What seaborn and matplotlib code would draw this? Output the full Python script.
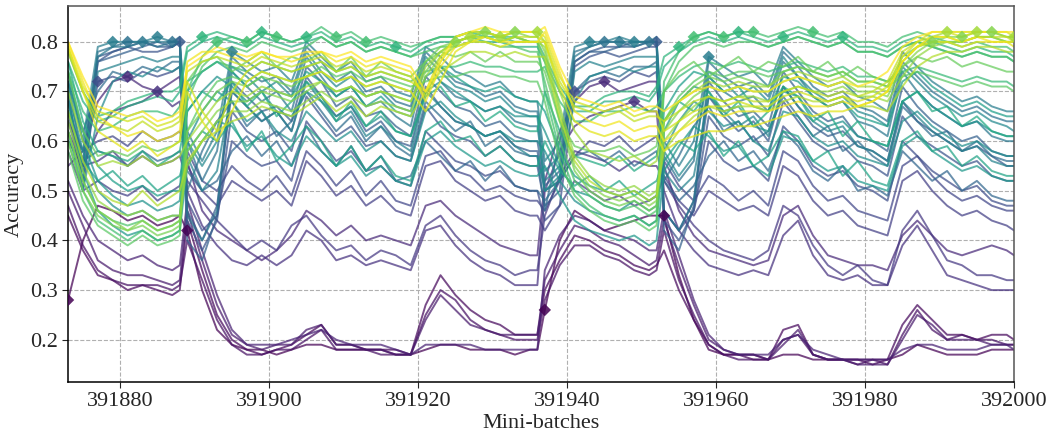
import numpy as np
import pandas as pd
import matplotlib
matplotlib.use('Agg')
import matplotlib.pyplot as plt
import seaborn as sns

# ============================================================================
# data: accuracy (%) of each run, logged every 2nd mini-batch + phase edges
# layout of every run: phase A1 (9) | phase B1 (25) | phase A2 (9) | phase B2 (25)
# ============================================================================

steps = sorted(set(range(391873, 392000, 2)) | {391888, 391936, 391952, 392000})

purple_low = [
    [28, 40, 47, 46, 44, 45, 43, 44, 45,
     42, 30, 22, 19, 18, 18, 17, 18, 19, 19, 18, 18, 18, 18, 17, 17, 18, 19, 19, 18, 18, 18, 17, 18, 18,
     26, 40, 46, 44, 42, 43, 44, 45, 45,
     45, 33, 24, 18, 17, 17, 17, 16, 17, 17, 16, 16, 16, 16, 16, 16, 17, 19, 18, 17, 17, 17, 18, 18, 18],
    [45, 38, 33, 32, 30, 31, 30, 29, 30,
     44, 34, 25, 20, 18, 17, 18, 19, 21, 23, 19, 19, 18, 18, 18, 17, 27, 33, 29, 26, 24, 23, 21, 21, 21,
     30, 36, 41, 40, 38, 37, 35, 34, 35,
     38, 30, 24, 19, 17, 17, 16, 16, 22, 23, 17, 16, 16, 16, 15, 16, 23, 27, 24, 21, 21, 20, 21, 21, 20],
    [47, 39, 34, 32, 31, 31, 31, 30, 31,
     40, 32, 24, 19, 17, 17, 18, 18, 20, 22, 18, 18, 18, 17, 17, 17, 25, 30, 28, 24, 22, 21, 20, 20, 20,
     28, 35, 39, 39, 37, 36, 34, 33, 34,
     42, 32, 25, 19, 17, 16, 16, 16, 20, 21, 17, 16, 16, 15, 16, 15, 21, 26, 22, 20, 21, 20, 20, 19, 19],
    [50, 43, 36, 34, 33, 33, 32, 31, 32,
     46, 36, 27, 21, 19, 18, 19, 19, 22, 23, 19, 19, 18, 18, 17, 17, 24, 29, 26, 23, 22, 21, 21, 21, 21,
     32, 38, 43, 42, 40, 39, 37, 35, 36,
     44, 35, 27, 20, 18, 17, 17, 16, 19, 22, 17, 16, 16, 15, 15, 15, 20, 25, 23, 20, 20, 20, 19, 19, 19],
    [52, 45, 40, 38, 36, 37, 35, 34, 35,
     48, 38, 29, 22, 19, 19, 19, 20, 21, 22, 20, 19, 19, 19, 18, 17, 19, 19, 19, 19, 18, 18, 18, 18, 18,
     34, 41, 45, 44, 42, 41, 40, 38, 38,
     46, 37, 28, 21, 18, 17, 17, 17, 20, 21, 18, 17, 16, 16, 16, 16, 18, 19, 19, 18, 18, 18, 19, 19, 18],
]

purple_mid = [
    [55, 58, 68, 72, 73, 71, 70, 72, 73,
     56, 46, 42, 40, 38, 36, 38, 41, 46, 44, 41, 43, 40, 41, 40, 39, 47, 48, 45, 43, 41, 39, 38, 37, 37,
     52, 62, 68, 71, 72, 70, 71, 72, 72,
     55, 46, 41, 38, 37, 36, 35, 36, 45, 47, 41, 37, 36, 35, 35, 34, 41, 44, 41, 38, 37, 38, 39, 38, 37],
    [60, 55, 62, 66, 67, 68, 70, 67, 68,
     50, 43, 39, 36, 35, 37, 35, 37, 42, 40, 36, 37, 35, 36, 35, 34, 42, 43, 39, 36, 34, 33, 31, 31, 31,
     50, 58, 63, 65, 66, 67, 68, 66, 66,
     50, 42, 38, 35, 34, 33, 34, 33, 41, 44, 37, 33, 32, 33, 31, 31, 39, 43, 38, 33, 32, 31, 30, 30, 30],
    [62, 55, 56, 58, 55, 57, 55, 56, 57,
     52, 48, 44, 41, 38, 40, 38, 43, 45, 41, 38, 39, 36, 38, 37, 35, 43, 45, 41, 38, 36, 35, 33, 34, 34,
     45, 53, 58, 57, 56, 54, 56, 55, 55,
     52, 47, 43, 40, 38, 37, 36, 38, 47, 45, 39, 35, 33, 35, 32, 31, 42, 46, 41, 36, 35, 33, 33, 32, 32],
    [58, 50, 52, 50, 49, 51, 48, 50, 51,
     55, 50, 47, 52, 50, 48, 50, 47, 56, 53, 49, 51, 47, 49, 46, 45, 55, 56, 52, 50, 48, 49, 46, 45, 45,
     42, 47, 52, 50, 48, 49, 47, 48, 49,
     53, 48, 45, 50, 48, 46, 47, 45, 55, 53, 48, 45, 46, 43, 42, 41, 52, 54, 50, 47, 45, 46, 44, 43, 42],
    [64, 58, 60, 61, 59, 62, 60, 61, 62,
     58, 52, 50, 55, 52, 50, 53, 49, 58, 55, 51, 54, 49, 52, 48, 47, 57, 58, 54, 53, 50, 51, 49, 48, 48,
     46, 52, 57, 60, 59, 61, 58, 60, 61,
     56, 51, 48, 53, 51, 48, 50, 47, 58, 56, 51, 48, 49, 46, 45, 44, 55, 57, 53, 50, 48, 49, 47, 46, 46],
]

blue = [
    [66, 52, 72, 73, 72, 74, 73, 74, 75,
     48, 42, 45, 60, 57, 55, 56, 52, 64, 60, 56, 58, 54, 55, 52, 51, 62, 59, 56, 55, 53, 54, 51, 50, 50,
     44, 47, 70, 72, 73, 72, 74, 73, 74,
     46, 42, 46, 60, 56, 54, 55, 52, 63, 60, 55, 53, 54, 51, 50, 48, 60, 57, 54, 52, 50, 51, 48, 47, 47],
    [70, 50, 76, 78, 79, 78, 78, 79, 80,
     44, 38, 44, 66, 62, 60, 62, 58, 69, 65, 61, 63, 59, 60, 57, 56, 67, 63, 61, 60, 57, 59, 56, 55, 55,
     47, 50, 75, 77, 78, 77, 78, 79, 79,
     44, 40, 46, 65, 61, 59, 61, 57, 68, 64, 60, 58, 59, 56, 55, 53, 65, 61, 59, 57, 55, 56, 53, 52, 52],
    [64, 54, 77, 78, 79, 80, 79, 79, 80,
     46, 40, 47, 70, 67, 64, 66, 62, 73, 69, 65, 67, 62, 64, 60, 59, 71, 67, 64, 63, 61, 62, 59, 58, 58,
     50, 52, 76, 78, 79, 79, 80, 80, 80,
     46, 42, 48, 69, 65, 62, 64, 60, 71, 67, 63, 61, 62, 59, 58, 56, 68, 64, 62, 60, 58, 59, 57, 55, 55],
    [68, 56, 76, 77, 78, 79, 80, 79, 80,
     40, 36, 45, 72, 69, 66, 67, 64, 75, 72, 67, 69, 65, 66, 63, 61, 73, 70, 67, 66, 63, 64, 61, 60, 60,
     51, 54, 76, 78, 78, 79, 79, 80, 80,
     42, 38, 47, 72, 68, 65, 66, 63, 74, 70, 66, 64, 65, 61, 60, 58, 71, 67, 64, 62, 60, 61, 58, 57, 57],
    [60, 56, 58, 57, 55, 58, 56, 57, 58,
     54, 50, 52, 58, 61, 57, 60, 55, 63, 58, 55, 59, 54, 57, 52, 53, 60, 57, 54, 56, 52, 55, 51, 50, 50,
     48, 52, 57, 58, 56, 58, 55, 57, 58,
     52, 48, 51, 57, 60, 56, 58, 54, 62, 59, 54, 52, 55, 50, 51, 49, 58, 55, 52, 54, 50, 52, 49, 48, 48],
    [72, 62, 70, 74, 73, 75, 74, 76, 76,
     50, 58, 64, 68, 63, 66, 61, 64, 70, 66, 62, 65, 60, 63, 59, 57, 68, 65, 62, 64, 59, 61, 58, 57, 57,
     46, 60, 70, 73, 74, 73, 75, 75, 76,
     52, 57, 63, 67, 62, 64, 60, 62, 69, 65, 61, 63, 58, 60, 57, 55, 67, 64, 61, 62, 58, 60, 57, 56, 56],
]

teal_blue = [
    [72, 55, 78, 79, 80, 80, 79, 80, 80,
     60, 52, 58, 77, 74, 72, 73, 70, 79, 76, 72, 74, 70, 71, 68, 67, 78, 75, 72, 71, 69, 70, 67, 66, 66,
     54, 57, 78, 79, 80, 80, 79, 80, 80,
     57, 52, 56, 76, 73, 71, 72, 69, 78, 75, 71, 69, 70, 67, 66, 64, 76, 73, 70, 68, 66, 67, 65, 64, 64],
    [66, 58, 77, 79, 79, 80, 80, 80, 81,
     45, 40, 46, 74, 71, 68, 70, 66, 77, 73, 69, 71, 67, 68, 65, 63, 76, 72, 69, 68, 66, 67, 64, 63, 63,
     52, 55, 77, 79, 80, 80, 80, 80, 81,
     46, 42, 48, 73, 70, 68, 69, 66, 76, 73, 69, 67, 68, 64, 63, 61, 74, 70, 67, 65, 63, 64, 61, 60, 60],
    [74, 60, 79, 80, 80, 80, 81, 80, 80,
     62, 56, 62, 78, 76, 74, 75, 72, 80, 77, 74, 76, 72, 73, 70, 69, 79, 77, 74, 73, 71, 72, 69, 68, 68,
     56, 60, 79, 80, 80, 81, 80, 80, 80,
     60, 55, 60, 77, 75, 73, 74, 71, 79, 76, 73, 71, 72, 69, 68, 66, 78, 75, 72, 70, 68, 69, 67, 66, 66],
    [70, 52, 74, 75, 76, 77, 76, 77, 77,
     57, 50, 54, 70, 67, 64, 66, 62, 72, 68, 64, 66, 61, 63, 60, 58, 70, 67, 64, 63, 61, 62, 59, 57, 57,
     50, 52, 74, 76, 75, 76, 77, 77, 77,
     54, 50, 53, 69, 66, 63, 65, 61, 71, 67, 64, 62, 63, 59, 58, 56, 68, 65, 62, 60, 58, 59, 56, 55, 55],
    [62, 50, 65, 72, 74, 73, 75, 74, 75,
     60, 55, 60, 75, 73, 70, 72, 69, 78, 74, 71, 73, 69, 70, 67, 66, 77, 74, 71, 70, 68, 69, 66, 65, 65,
     50, 53, 68, 73, 74, 75, 74, 75, 75,
     58, 53, 57, 74, 72, 69, 71, 68, 77, 73, 70, 68, 69, 66, 65, 63, 75, 72, 69, 67, 65, 66, 64, 63, 62],
]

teal = [
    [70, 58, 50, 47, 45, 46, 44, 45, 45,
     60, 66, 70, 68, 64, 66, 62, 60, 66, 63, 60, 62, 58, 60, 57, 56, 66, 68, 65, 63, 61, 62, 60, 60, 60,
     58, 52, 48, 46, 45, 44, 45, 43, 44,
     58, 64, 68, 66, 63, 64, 60, 58, 66, 65, 61, 59, 60, 57, 56, 55, 64, 66, 63, 61, 59, 60, 58, 57, 57],
    [72, 60, 52, 49, 47, 48, 46, 47, 48,
     66, 70, 73, 71, 68, 70, 66, 65, 70, 68, 65, 67, 63, 65, 62, 61, 70, 72, 70, 68, 66, 67, 65, 65, 65,
     62, 55, 50, 49, 47, 46, 48, 46, 47,
     62, 68, 71, 70, 66, 67, 63, 62, 70, 69, 65, 63, 64, 61, 60, 59, 68, 70, 67, 65, 63, 64, 62, 61, 61],
    [68, 54, 46, 43, 41, 42, 40, 41, 42,
     55, 60, 64, 63, 59, 61, 57, 55, 61, 58, 55, 57, 53, 55, 52, 51, 60, 62, 59, 57, 55, 56, 54, 53, 53,
     55, 49, 44, 42, 41, 40, 41, 39, 40,
     54, 59, 63, 61, 58, 59, 55, 53, 61, 60, 56, 54, 55, 52, 51, 50, 59, 61, 58, 56, 54, 55, 53, 52, 52],
    [74, 62, 55, 52, 50, 51, 49, 50, 50,
     70, 74, 76, 74, 71, 73, 70, 69, 74, 72, 69, 71, 67, 69, 66, 65, 73, 75, 73, 71, 70, 71, 69, 68, 68,
     66, 58, 53, 51, 50, 49, 50, 48, 49,
     66, 71, 74, 73, 70, 71, 67, 66, 73, 72, 69, 67, 68, 65, 64, 63, 72, 74, 71, 69, 67, 68, 66, 65, 65],
    [66, 56, 52, 54, 51, 53, 50, 52, 53,
     58, 62, 60, 64, 58, 62, 56, 59, 63, 60, 55, 59, 54, 57, 53, 52, 62, 64, 60, 61, 57, 59, 56, 55, 55,
     60, 54, 51, 53, 50, 52, 49, 51, 52,
     56, 60, 58, 62, 57, 60, 55, 57, 62, 61, 56, 58, 53, 56, 52, 51, 60, 62, 58, 59, 55, 57, 54, 53, 53],
    [76, 64, 58, 57, 56, 58, 55, 57, 58,
     66, 70, 68, 72, 67, 70, 65, 68, 72, 69, 64, 68, 63, 66, 62, 61, 69, 71, 67, 68, 64, 66, 63, 62, 62,
     70, 62, 57, 56, 55, 57, 54, 56, 57,
     64, 68, 66, 70, 65, 68, 63, 66, 71, 69, 64, 66, 61, 64, 60, 59, 68, 70, 66, 67, 63, 65, 62, 61, 61],
]

green = [
    [76, 68, 64, 65, 67, 68, 69, 68, 70,
     78, 80, 81, 80, 79, 81, 80, 79, 80, 81, 79, 80, 78, 79, 78, 77, 79, 80, 80, 81, 80, 80, 79, 79, 79,
     76, 70, 66, 66, 68, 68, 69, 68, 70,
     75, 78, 80, 81, 80, 81, 80, 79, 80, 81, 80, 79, 80, 78, 78, 77, 79, 80, 79, 78, 77, 78, 77, 77, 76],
    [78, 70, 65, 66, 68, 69, 70, 70, 71,
     79, 81, 82, 81, 80, 82, 81, 80, 81, 82, 80, 81, 79, 80, 79, 78, 80, 81, 81, 82, 81, 81, 80, 80, 80,
     77, 71, 67, 67, 69, 70, 70, 69, 71,
     77, 79, 81, 82, 81, 82, 81, 80, 81, 82, 81, 80, 81, 79, 79, 78, 80, 81, 80, 79, 78, 79, 78, 78, 77],
    [74, 66, 62, 63, 65, 66, 66, 65, 67,
     72, 74, 76, 75, 74, 76, 75, 74, 75, 76, 74, 75, 73, 74, 73, 72, 74, 75, 75, 76, 75, 75, 74, 74, 74,
     75, 68, 64, 64, 66, 66, 67, 66, 67,
     70, 73, 75, 76, 75, 76, 75, 74, 75, 76, 75, 74, 75, 73, 73, 72, 74, 75, 74, 73, 72, 73, 72, 72, 71],
    [60, 50, 44, 42, 40, 42, 40, 41, 42,
     70, 77, 80, 81, 80, 82, 81, 80, 81, 83, 81, 82, 80, 81, 80, 79, 80, 81, 81, 82, 82, 81, 81, 80, 80,
     70, 58, 50, 47, 45, 44, 45, 43, 44,
     72, 78, 81, 82, 81, 82, 82, 81, 82, 83, 82, 81, 82, 80, 80, 79, 81, 82, 81, 80, 79, 80, 79, 79, 78],
    [62, 52, 46, 44, 43, 44, 42, 43, 44,
     68, 75, 78, 79, 78, 80, 79, 78, 79, 81, 79, 80, 78, 79, 78, 77, 78, 79, 79, 80, 80, 79, 79, 78, 78,
     72, 60, 52, 49, 47, 46, 47, 45, 46,
     70, 76, 79, 80, 79, 80, 80, 79, 80, 81, 80, 79, 80, 78, 78, 77, 79, 80, 79, 78, 77, 78, 77, 77, 76],
    [58, 48, 43, 41, 39, 41, 39, 40, 41,
     62, 68, 72, 73, 72, 74, 73, 72, 73, 75, 73, 74, 72, 73, 72, 71, 72, 73, 73, 74, 74, 73, 73, 72, 72,
     68, 56, 49, 46, 44, 43, 44, 42, 43,
     64, 69, 72, 74, 73, 74, 74, 73, 74, 75, 74, 73, 74, 72, 72, 71, 73, 74, 73, 72, 71, 72, 71, 71, 70],
    [74, 62, 57, 58, 57, 59, 58, 59, 60,
     72, 76, 77, 74, 76, 78, 75, 77, 76, 78, 74, 77, 73, 76, 74, 73, 76, 78, 77, 78, 76, 78, 76, 76, 76,
     74, 64, 59, 58, 58, 59, 57, 58, 59,
     70, 74, 76, 73, 75, 77, 74, 76, 75, 77, 74, 76, 73, 75, 73, 72, 75, 77, 76, 77, 75, 76, 75, 74, 74],
]

light_green = [
    [60, 50, 45, 43, 42, 43, 41, 42, 43,
     62, 66, 70, 72, 71, 73, 72, 71, 73, 74, 72, 73, 71, 72, 71, 70, 76, 79, 80, 81, 81, 80, 81, 80, 80,
     76, 64, 54, 50, 48, 47, 48, 46, 47,
     64, 68, 71, 73, 72, 73, 72, 71, 74, 75, 74, 73, 74, 72, 72, 71, 77, 79, 80, 80, 80, 81, 81, 80, 80],
    [62, 52, 46, 44, 42, 44, 42, 43, 44,
     58, 62, 66, 68, 68, 70, 69, 68, 70, 72, 70, 71, 69, 70, 69, 68, 74, 78, 80, 81, 82, 81, 82, 81, 81,
     78, 66, 55, 51, 49, 48, 49, 47, 48,
     62, 66, 69, 71, 70, 71, 70, 70, 72, 73, 72, 71, 72, 70, 70, 69, 75, 78, 80, 81, 81, 82, 82, 81, 81],
    [64, 54, 48, 46, 45, 46, 44, 45, 45,
     55, 60, 64, 66, 66, 68, 67, 66, 68, 70, 68, 69, 67, 68, 67, 66, 73, 77, 79, 80, 81, 80, 81, 80, 80,
     79, 67, 57, 53, 51, 50, 51, 49, 50,
     60, 64, 67, 69, 68, 69, 69, 68, 70, 71, 70, 70, 71, 69, 69, 68, 73, 77, 79, 80, 80, 81, 81, 80, 80],
    [70, 60, 55, 56, 55, 57, 55, 56, 57,
     60, 64, 68, 70, 69, 71, 70, 69, 71, 72, 70, 71, 69, 70, 69, 68, 75, 78, 80, 81, 82, 81, 82, 82, 82,
     80, 70, 62, 58, 57, 56, 57, 55, 56,
     64, 68, 70, 72, 71, 72, 71, 71, 73, 74, 73, 72, 73, 71, 71, 70, 76, 79, 81, 82, 82, 82, 82, 81, 81],
    [66, 56, 50, 48, 47, 50, 47, 49, 50,
     56, 60, 62, 64, 65, 67, 66, 65, 67, 69, 66, 68, 65, 67, 66, 65, 70, 74, 76, 78, 78, 77, 78, 77, 77,
     77, 65, 56, 52, 50, 49, 50, 48, 49,
     58, 62, 65, 67, 66, 67, 67, 66, 68, 69, 68, 68, 69, 67, 67, 66, 71, 75, 77, 78, 78, 79, 79, 78, 78],
]

yellow = [
    [78, 70, 64, 63, 62, 64, 62, 63, 64,
     74, 76, 77, 76, 75, 77, 76, 75, 76, 77, 75, 76, 74, 75, 74, 73, 69, 76, 80, 81, 81, 80, 81, 81, 81,
     80, 72, 67, 66, 65, 66, 64, 65, 65,
     64, 66, 68, 69, 68, 69, 68, 68, 70, 71, 70, 69, 70, 69, 70, 72, 78, 80, 81, 81, 80, 81, 81, 81, 80],
    [79, 71, 66, 65, 64, 65, 63, 64, 65,
     72, 66, 62, 70, 74, 76, 75, 74, 75, 76, 74, 75, 73, 74, 73, 72, 70, 77, 81, 82, 82, 81, 82, 82, 82,
     81, 73, 68, 67, 66, 67, 65, 66, 66,
     62, 64, 66, 67, 67, 68, 67, 67, 69, 70, 69, 68, 69, 68, 69, 71, 77, 80, 82, 82, 81, 82, 82, 82, 81],
    [79, 70, 62, 60, 58, 60, 57, 59, 60,
     70, 64, 60, 66, 72, 74, 73, 72, 73, 74, 72, 73, 71, 72, 71, 70, 66, 72, 78, 80, 80, 79, 80, 80, 80,
     80, 71, 64, 62, 61, 62, 60, 61, 61,
     58, 60, 61, 62, 62, 63, 63, 64, 65, 66, 65, 66, 66, 67, 68, 70, 76, 79, 80, 80, 79, 80, 80, 80, 79],
    [80, 72, 65, 63, 61, 62, 60, 61, 62,
     76, 78, 78, 77, 76, 78, 77, 76, 77, 78, 76, 77, 75, 76, 75, 74, 68, 75, 79, 80, 81, 80, 80, 80, 80,
     82, 74, 66, 64, 63, 64, 62, 63, 63,
     60, 62, 64, 66, 65, 66, 66, 66, 67, 68, 67, 67, 68, 67, 68, 70, 76, 79, 81, 81, 80, 81, 80, 80, 80],
    [80, 73, 67, 66, 65, 66, 64, 65, 66,
     75, 77, 79, 78, 77, 78, 77, 77, 78, 78, 77, 78, 76, 77, 76, 75, 70, 76, 81, 82, 83, 82, 82, 82, 82,
     83, 75, 69, 68, 67, 68, 66, 67, 67,
     66, 68, 70, 71, 70, 71, 70, 70, 72, 73, 72, 71, 72, 71, 72, 74, 79, 81, 82, 82, 82, 82, 82, 82, 82],
]

# families ordered purple -> yellow, which is also the colour order
families = [('purple_low', purple_low), ('purple_mid', purple_mid), ('blue', blue),
            ('teal_blue', teal_blue), ('teal', teal), ('green', green),
            ('light_green', light_green), ('yellow', yellow)]

# diamond markers: (family, member) -> indices into steps
diamonds = {
    ('purple_low', 0): [0, 9, 34, 43],
    ('purple_mid', 0): [4, 38],
    ('purple_mid', 1): [6, 40],
    ('blue', 0): [2, 36],
    ('blue', 2): [8, 42],
    ('teal_blue', 0): [4, 7, 38, 41],
    ('teal_blue', 1): [5, 39],
    ('teal_blue', 2): [3, 6, 12, 37, 40, 46],
    ('green', 1): [10, 14, 17, 23, 44, 48, 51, 55],
    ('green', 3): [11, 13, 15, 19, 21, 45, 47, 49, 53],
    ('light_green', 1): [27, 29, 31, 61, 63, 65],
    ('light_green', 3): [28, 30, 33, 62, 64, 67],
}

rows, mrows = [], []
r = 0
for name, fam in families:
    for k, acc in enumerate(fam):
        assert len(acc) == len(steps), (name, k, len(acc))
        for s, a in zip(steps, acc):
            rows.append({'run': r, 'step': s, 'acc': a / 100})
        for i in diamonds.get((name, k), []):
            mrows.append({'run': r, 'step': steps[i], 'acc': acc[i] / 100})
        r += 1
n_runs = r
df = pd.DataFrame(rows)
dm = pd.DataFrame(mrows)

# ============================================================================
# plot
# ============================================================================
sns.set_style('white')
plt.rcParams['font.family'] = ['Liberation Serif', 'DejaVu Serif']

fig = plt.figure(figsize=(10.53, 4.36), dpi=100)
ax = fig.add_axes([0.0646, 0.124, 0.8985, 0.862])

norm = (0, n_runs - 1)
sns.lineplot(data=df, x='step', y='acc', hue='run', units='run', estimator=None,
             palette='viridis', hue_norm=norm, legend=False, lw=1.4, alpha=0.72, ax=ax)
sns.scatterplot(data=dm, x='step', y='acc', hue='run', palette='viridis', hue_norm=norm,
                marker='D', s=40, linewidth=0, alpha=0.85, legend=False, ax=ax, zorder=5)

ax.set_xlim(391873, 392000)
ax.set_ylim(0.115, 0.872)
ax.set_xticks([391880, 391900, 391920, 391940, 391960, 391980, 392000])
ax.set_yticks([0.2, 0.3, 0.4, 0.5, 0.6, 0.7, 0.8])
ax.grid(True, ls='--', color='#b0b0b0', lw=0.8)
ax.set_axisbelow(True)
ax.tick_params(labelsize=16, direction='out', length=4, left=True, bottom=True)
ax.set_xlabel('Mini-batches', fontsize=16, labelpad=2)
ax.set_ylabel('Accuracy', fontsize=16, labelpad=4)
for side in ['top', 'right']:
    ax.spines[side].set_color('#555555')
for side in ['left', 'bottom']:
    ax.spines[side].set_color('black')
for sp in ax.spines.values():
    sp.set_linewidth(1.1)

fig.savefig('out.png', dpi=100)
